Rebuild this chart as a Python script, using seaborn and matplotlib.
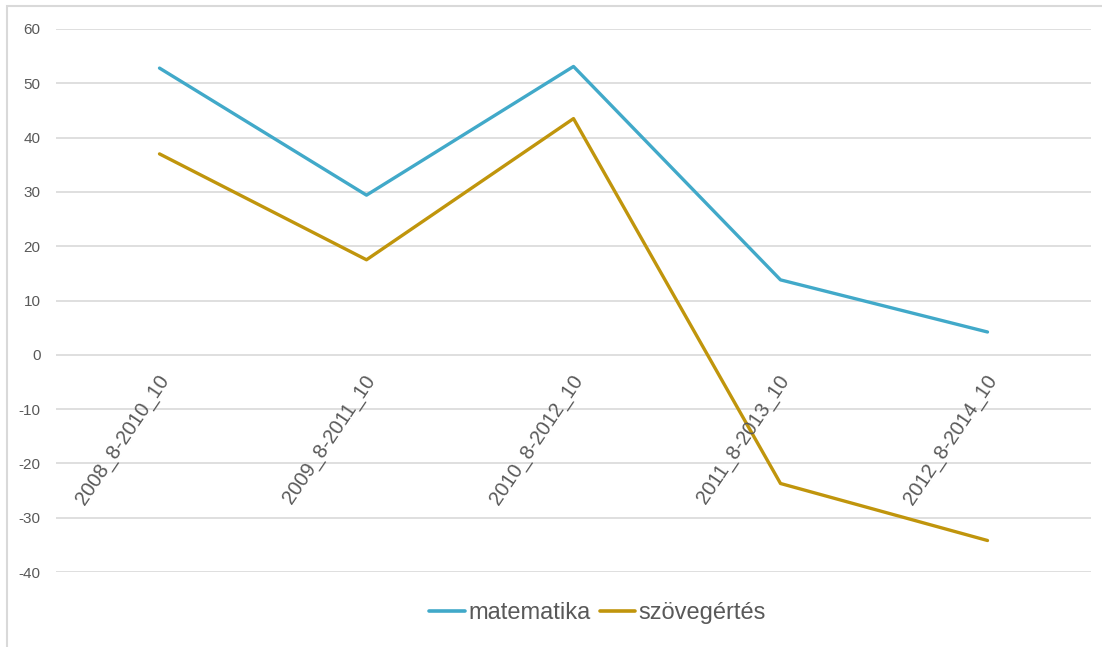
import matplotlib
matplotlib.use("Agg")
import matplotlib.pyplot as plt
import seaborn as sns
import pandas as pd
from matplotlib.patches import Rectangle

categories = ["2008_8-2010_10", "2009_8-2011_10", "2010_8-2012_10", "2011_8-2013_10", "2012_8-2014_10"]
matematika = [52.8, 29.4, 53.1, 13.8, 4.2]
szovegertes = [37.0, 17.5, 43.5, -23.7, -34.2]
series_names = ["matematika", "szövegértés"]
yticks = [-40, -30, -20, -10, 0, 10, 20, 30, 40, 50, 60]

sns.set_theme(style="white")
plt.rcParams['font.family'] = ['Liberation Sans', 'DejaVu Sans']

df = pd.DataFrame({
    "x": list(range(len(categories))) * 2,
    "value": matematika + szovegertes,
    "series": [series_names[0]] * len(categories) + [series_names[1]] * len(categories),
})

fig = plt.figure(figsize=(11.02, 6.47), dpi=100)
ax = fig.add_axes([56/1102, 1 - 572/647, (1091-56)/1102, (572-29)/647])

palette = {"matematika": "#41A9C9", "szövegértés": "#C0950C"}
sns.lineplot(data=df, x="x", y="value", hue="series", palette=palette, ax=ax,
             linewidth=2.4, legend=True, zorder=3)

ax.set_xlim(-0.5, len(categories) - 0.5)
ax.set_ylim(-40, 60)
ax.set_yticks(yticks)
ax.set_yticklabels([str(t) for t in yticks], fontsize=11, color="#595959")
ax.tick_params(axis="y", length=0, pad=11)
ax.set_xticks([])
ax.set_xlabel("")
ax.set_ylabel("")
ax.yaxis.grid(True, color="#d9d9d9", linewidth=1.2)
ax.set_axisbelow(True)
for s in ax.spines.values():
    s.set_visible(False)

for i, lab in enumerate(categories):
    ax.annotate(lab, xy=(i, 0), xytext=(-2, -12), textcoords="offset points",
                rotation=56, rotation_mode="anchor", ha="right", va="top",
                fontsize=14.5, color="#595959")

handles, labels = ax.get_legend_handles_labels()
leg = ax.legend(handles, labels, loc="center left", bbox_to_anchor=(408/1102, 1 - 613/647),
                bbox_transform=fig.transFigure, ncol=2, frameon=False,
                fontsize=17, handlelength=1.5, handletextpad=0.15, columnspacing=0.4,
                labelcolor="#595959")
for l in leg.get_lines():
    l.set_linewidth(2.6)

fig.patches.append(Rectangle((7/1102, -0.05), 1.1, (647-6)/647 + 0.05, fill=False,
                             edgecolor="#d9d9d9", linewidth=1.5, transform=fig.transFigure))

fig.savefig("out.png", dpi=100)
